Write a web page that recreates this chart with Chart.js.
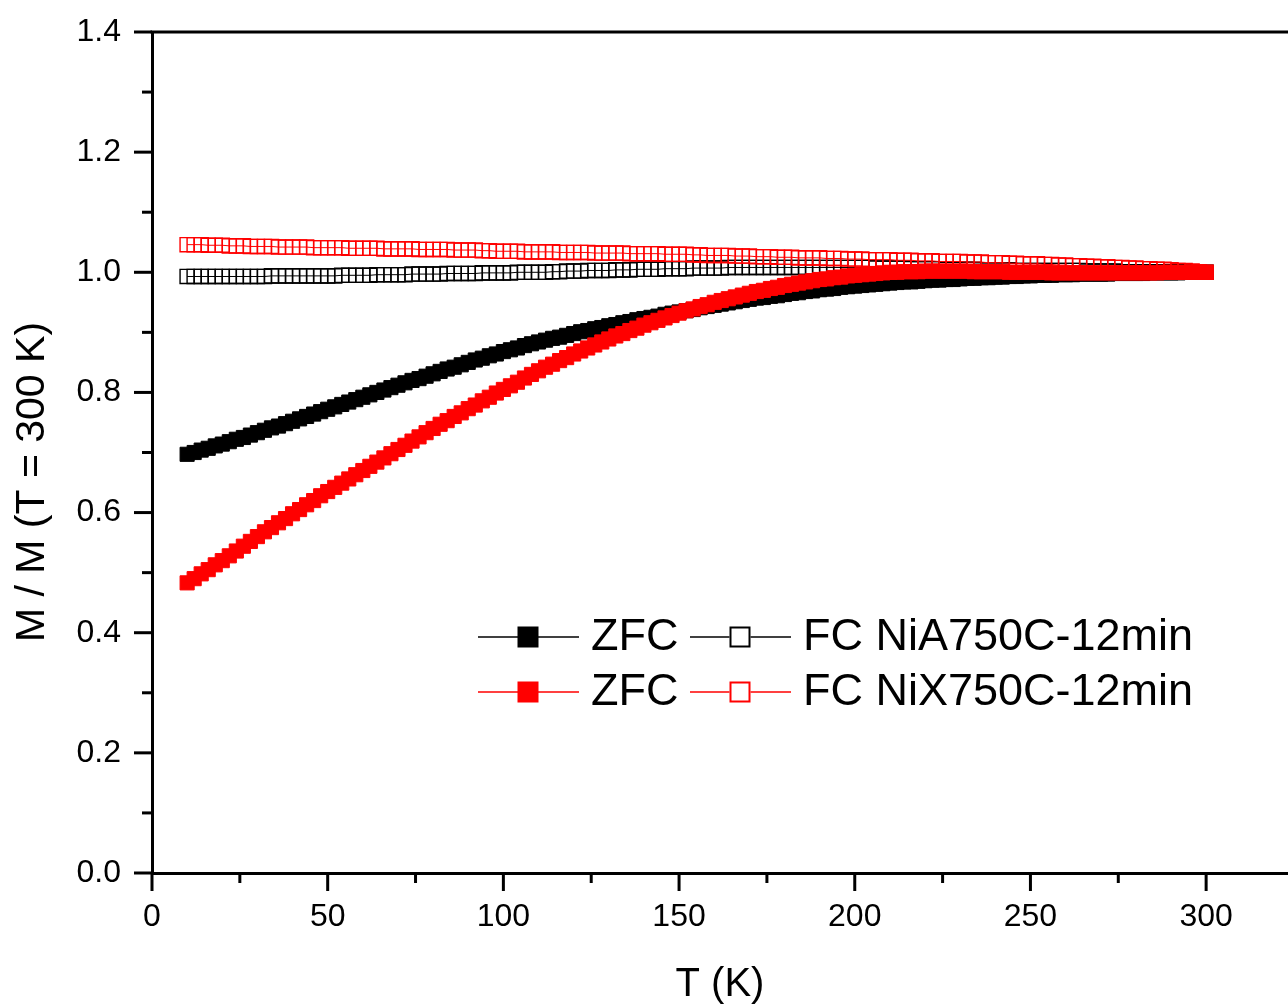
<!DOCTYPE html>
<html><head><meta charset="utf-8">
<script src="https://cdn.jsdelivr.net/npm/chart.js@4"></script>
<style>html,body{margin:0;padding:0;background:#fff;} #wrap{width:1288px;height:1006px;position:relative;}</style>
</head><body><div id="wrap"><canvas id="c" width="1288" height="1006"></canvas></div>
<script>
// Temperature (K)
const T = [
10,12,14,16,18,20,22,24,26,28,
30,32,34,36,38,40,42,44,46,48,
50,52,54,56,58,60,62,64,66,68,
70,72,74,76,78,80,82,84,86,88,
90,92,94,96,98,100,102,104,106,108,
110,112,114,116,118,120,122,124,126,128,
130,132,134,136,138,140,142,144,146,148,
150,152,154,156,158,160,162,164,166,168,
170,172,174,176,178,180,182,184,186,188,
190,192,194,196,198,200,202,204,206,208,
210,212,214,216,218,220,222,224,226,228,
230,232,234,236,238,240,242,244,246,248,
250,252,254,256,258,260,262,264,266,268,
270,272,274,276,278,280,282,284,286,288,
290,292,294,296,298,300];

// ZFC NiA750C-12min (black, filled)
const zfcA = [
.697,.700,.704,.707,.711,.714,.718,.722,.725,.729,
.733,.737,.741,.744,.748,.752,.756,.760,.764,.768,
.772,.776,.780,.784,.788,.792,.796,.800,.804,.808,
.812,.816,.820,.823,.827,.831,.835,.839,.842,.846,
.850,.854,.857,.861,.864,.868,.871,.874,.878,.881,
.884,.887,.890,.892,.895,.898,.901,.903,.906,.908,
.911,.913,.916,.918,.921,.923,.925,.927,.930,.932,
.934,.936,.938,.941,.943,.945,.947,.949,.951,.953,
.955,.957,.958,.960,.961,.963,.965,.966,.968,.969,
.971,.972,.973,.975,.976,.977,.978,.979,.980,.981,
.982,.983,.984,.984,.985,.986,.987,.987,.988,.988,
.989,.990,.990,.991,.991,.992,.992,.993,.993,.994,
.994,.995,.995,.995,.996,.996,.996,.997,.997,.997,
.997,.997,.998,.998,.998,.998,.998,.999,.999,.999,
.999,.999,1.000,1.000,1.000,1.000];

// FC NiA750C-12min (black, open)
const fcA = [
.993,.993,.993,.993,.993,.993,.993,.993,.993,.993,
.993,.993,.994,.994,.994,.994,.994,.994,.994,.994,
.994,.994,.995,.995,.995,.995,.995,.996,.996,.996,
.996,.996,.997,.997,.997,.997,.997,.998,.998,.998,
.998,.998,.999,.999,.999,.999,.999,1.000,1.000,1.000,
1.000,1.000,1.001,1.001,1.002,1.002,1.002,1.003,1.003,1.003,
1.003,1.004,1.004,1.004,1.005,1.005,1.005,1.005,1.006,1.006,
1.006,1.006,1.007,1.007,1.007,1.007,1.007,1.008,1.008,1.008,
1.008,1.008,1.008,1.008,1.008,1.008,1.008,1.008,1.008,1.008,
1.008,1.008,1.008,1.008,1.008,1.008,1.008,1.008,1.007,1.007,
1.007,1.007,1.007,1.006,1.006,1.006,1.006,1.006,1.005,1.005,
1.005,1.005,1.005,1.004,1.004,1.004,1.004,1.004,1.003,1.003,
1.003,1.003,1.003,1.003,1.003,1.003,1.003,1.003,1.002,1.002,
1.002,1.002,1.002,1.001,1.001,1.001,1.001,1.001,1.001,1.001,
1.001,1.001,1.000,1.000,1.000,1.000];

// ZFC NiX750C-12min (red, filled)
const zfcX = [
.483,.490,.498,.505,.513,.520,.528,.536,.544,.552,
.560,.568,.575,.583,.590,.598,.605,.613,.620,.628,
.635,.642,.649,.656,.663,.670,.677,.684,.691,.698,
.705,.712,.719,.726,.733,.740,.747,.753,.760,.766,
.773,.779,.786,.792,.799,.805,.811,.817,.824,.830,
.836,.842,.847,.853,.858,.864,.869,.874,.879,.884,
.889,.894,.898,.903,.907,.912,.916,.920,.924,.928,
.932,.936,.939,.943,.946,.950,.953,.956,.959,.962,
.965,.968,.970,.973,.975,.978,.980,.982,.984,.986,
.988,.989,.991,.992,.994,.995,.996,.997,.998,.999,
1.000,1.000,1.001,1.001,1.001,1.002,1.002,1.002,1.002,1.002,
1.002,1.002,1.001,1.001,1.001,1.001,1.001,1.000,1.000,1.000,
1.000,1.000,1.000,.999,.999,.999,.999,.999,.999,.999,
.999,.999,.999,.999,.999,.999,.999,.999,.999,1.000,
1.000,1.000,1.000,1.000,1.000,1.000];

// FC NiX750C-12min (red, open)
const fcX = [
1.046,1.046,1.046,1.045,1.045,1.045,1.044,1.044,1.044,1.043,
1.043,1.043,1.043,1.042,1.042,1.042,1.042,1.042,1.041,1.041,
1.041,1.041,1.041,1.040,1.040,1.040,1.040,1.040,1.039,1.039,
1.039,1.039,1.039,1.038,1.038,1.038,1.038,1.038,1.037,1.037,
1.037,1.037,1.036,1.036,1.035,1.035,1.035,1.035,1.034,1.034,
1.034,1.034,1.034,1.033,1.033,1.033,1.033,1.033,1.032,1.032,
1.032,1.032,1.032,1.031,1.031,1.031,1.031,1.031,1.030,1.030,
1.030,1.030,1.029,1.029,1.028,1.028,1.028,1.028,1.027,1.027,
1.027,1.026,1.026,1.026,1.025,1.025,1.025,1.024,1.024,1.024,
1.024,1.023,1.023,1.023,1.022,1.022,1.022,1.021,1.021,1.021,
1.021,1.020,1.020,1.020,1.019,1.019,1.019,1.018,1.018,1.018,
1.018,1.017,1.017,1.017,1.016,1.016,1.016,1.015,1.015,1.014,
1.014,1.014,1.013,1.013,1.012,1.012,1.011,1.011,1.010,1.010,
1.009,1.009,1.008,1.008,1.007,1.007,1.006,1.006,1.005,1.005,
1.004,1.003,1.003,1.002,1.001,1.000];

const seriesLabels = ['ZFC', 'FC NiA750C-12min', 'ZFC', 'FC NiX750C-12min'];
const xTitle = 'T (K)';
const yTitle = 'M / M (T = 300 K)';

const FONT = '"Liberation Sans", Arial, Helvetica, sans-serif';
const pts = ys => T.map((t, i) => ({x: t, y: ys[i]}));

function ds(label, ys, color, filled, order) {
  return {
    label, data: pts(ys), order,
    showLine: true, borderColor: color, borderWidth: 1,
    pointStyle: 'rect', pointRadius: 10, pointHoverRadius: 10,
    pointBackgroundColor: filled ? color : 'rgba(0,0,0,0)',
    pointBorderColor: color, pointBorderWidth: filled ? 1 : 1.4,
    _filled: filled
  };
}

const decorPlugin = {
  id: 'decor',
  afterDraw(chart) {
    const {ctx, chartArea: a, scales: {x, y}} = chart;
    ctx.save();
    ctx.strokeStyle = '#000'; ctx.lineWidth = 3; ctx.lineCap = 'butt';
    // top frame
    ctx.beginPath(); ctx.moveTo(a.left - 1.5, a.top); ctx.lineTo(a.right, a.top); ctx.stroke();
    // x ticks (major + minor at midpoints)
    const xt = x.ticks.map(t => t.value);
    const drawX = (v, len) => { const p = x.getPixelForValue(v); if (p > a.right + 2) return; ctx.beginPath(); ctx.moveTo(p, a.bottom); ctx.lineTo(p, a.bottom + len); ctx.stroke(); };
    xt.forEach((v, i) => { drawX(v, 18); const nx = (i < xt.length - 1) ? xt[i + 1] : v + (xt[1] - xt[0]); drawX((v + nx) / 2, 10); });
    const yt = y.ticks.map(t => t.value);
    const drawY = (v, len) => { const p = y.getPixelForValue(v); ctx.beginPath(); ctx.moveTo(a.left, p); ctx.lineTo(a.left - len, p); ctx.stroke(); };
    yt.forEach((v, i) => { drawY(v, 18); if (i < yt.length - 1) drawY((v + yt[i + 1]) / 2, 10); });
    // y title
    ctx.save();
    ctx.translate(33, 482); ctx.rotate(-Math.PI / 2);
    ctx.fillStyle = '#000'; ctx.font = '41px ' + FONT; ctx.textAlign = 'center'; ctx.textBaseline = 'middle';
    ctx.fillText(yTitle, 0, 0);
    ctx.restore();
    // legend (2 x 2)
    const cols = [478, 690], rows = [637, 692];
    const order = [[0, 1], [2, 3]];
    ctx.font = '45px ' + FONT; ctx.textAlign = 'left'; ctx.textBaseline = 'middle';
    order.forEach((row, r) => row.forEach((di, c) => {
      const d = chart.data.datasets[di];
      const x0 = cols[c], yy = rows[r];
      ctx.strokeStyle = d.borderColor; ctx.lineWidth = 1.5;
      ctx.beginPath(); ctx.moveTo(x0, yy); ctx.lineTo(x0 + 101, yy); ctx.stroke();
      const s = 21, cx = x0 + 50;
      if (d._filled) { ctx.fillStyle = d.borderColor; ctx.fillRect(cx - s / 2, yy - s / 2, s, s); }
      else { ctx.fillStyle = '#fff'; ctx.fillRect(cx - s / 2, yy - s / 2, s, s); ctx.lineWidth = 2; ctx.strokeRect(cx - s / 2 + 1, yy - s / 2 + 1, s - 2, s - 2); }
      ctx.fillStyle = '#000';
      ctx.fillText(d.label, x0 + 113, yy + 1);
    }));
    ctx.restore();
  }
};

new Chart(document.getElementById('c'), {
  type: 'scatter',
  data: { datasets: [
    ds(seriesLabels[0], zfcA, '#000000', true, 4),
    ds(seriesLabels[1], fcA, '#000000', false, 3),
    ds(seriesLabels[2], zfcX, '#ff0000', true, 2),
    ds(seriesLabels[3], fcX, '#ff0000', false, 1)
  ]},
  options: {
    responsive: false, animation: false, events: [],
    layout: { autoPadding: false, padding: { top: 32, right: 0, left: 0, bottom: 0 } },
    plugins: { legend: { display: false }, tooltip: { enabled: false } },
    scales: {
      x: {
        type: 'linear', min: 0, max: 323.3,
        afterBuildTicks: s => { s.ticks = s.ticks.filter(t => Math.abs(t.value % 50) < 1e-6); },
        afterFit: s => { s.height = 133; s.paddingLeft = 0; s.paddingRight = 0; },
        grid: { display: false, drawTicks: false },
        border: { display: true, color: '#000', width: 3 },
        ticks: { stepSize: 50, includeBounds: false, padding: 25, color: '#000', font: { family: FONT, size: 32 }, maxRotation: 0, autoSkip: false },
        title: { display: true, text: xTitle, color: '#000', font: { family: FONT, size: 40 }, padding: { top: 0, bottom: -3 } }
      },
      y: {
        type: 'linear', min: 0, max: 1.4,
        afterFit: s => { s.width = 152; s.paddingTop = 0; s.paddingBottom = 0; },
        grid: { display: false, drawTicks: false },
        border: { display: true, color: '#000', width: 3 },
        ticks: { stepSize: 0.2, padding: 31, color: '#000', font: { family: FONT, size: 32 }, callback: v => v.toFixed(1) }
      }
    }
  },
  plugins: [decorPlugin]
});
</script></body></html>
